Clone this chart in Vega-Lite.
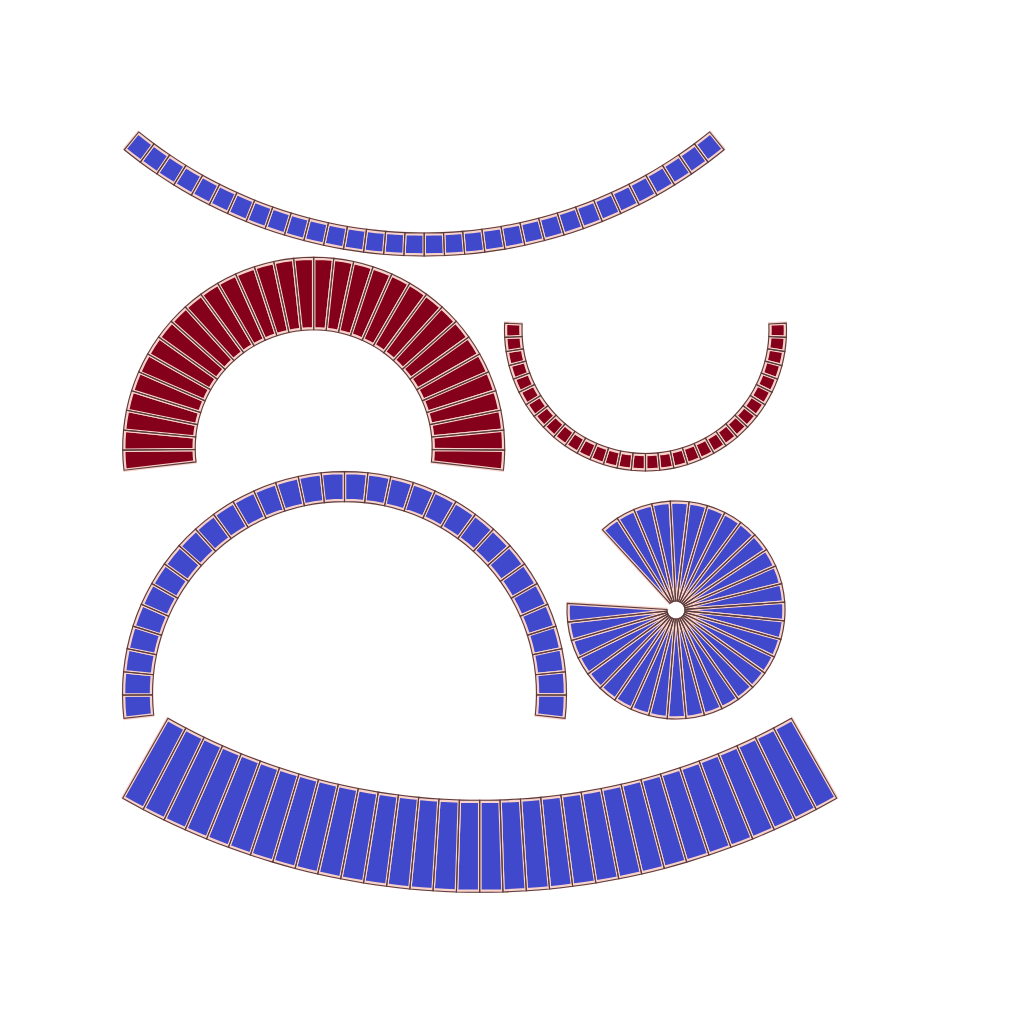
{
  "$schema": "https://vega.github.io/schema/vega-lite/v6.json",
  "width": 1024,
  "height": 1024,
  "autosize": {"type": "fit", "contains": "padding"},
  "padding": 0,
  "background": "white",
  "view": {"stroke": null},
  "data": {
    "values": [
      {"g": 1, "a": 141, "b": 143.44}, {"g": 1, "a": 143.44, "b": 145.88}, {"g": 1, "a": 145.88, "b": 148.31}, {"g": 1, "a": 148.31, "b": 150.75},
      {"g": 1, "a": 150.75, "b": 153.19}, {"g": 1, "a": 153.19, "b": 155.63}, {"g": 1, "a": 155.63, "b": 158.06}, {"g": 1, "a": 158.06, "b": 160.5},
      {"g": 1, "a": 160.5, "b": 162.94}, {"g": 1, "a": 162.94, "b": 165.38}, {"g": 1, "a": 165.38, "b": 167.81}, {"g": 1, "a": 167.81, "b": 170.25},
      {"g": 1, "a": 170.25, "b": 172.69}, {"g": 1, "a": 172.69, "b": 175.13}, {"g": 1, "a": 175.13, "b": 177.56}, {"g": 1, "a": 177.56, "b": 180},
      {"g": 1, "a": 180, "b": 182.44}, {"g": 1, "a": 182.44, "b": 184.88}, {"g": 1, "a": 184.88, "b": 187.31}, {"g": 1, "a": 187.31, "b": 189.75},
      {"g": 1, "a": 189.75, "b": 192.19}, {"g": 1, "a": 192.19, "b": 194.63}, {"g": 1, "a": 194.63, "b": 197.06}, {"g": 1, "a": 197.06, "b": 199.5},
      {"g": 1, "a": 199.5, "b": 201.94}, {"g": 1, "a": 201.94, "b": 204.38}, {"g": 1, "a": 204.38, "b": 206.81}, {"g": 1, "a": 206.81, "b": 209.25},
      {"g": 1, "a": 209.25, "b": 211.69}, {"g": 1, "a": 211.69, "b": 214.13}, {"g": 1, "a": 214.13, "b": 216.56}, {"g": 1, "a": 216.56, "b": 219},

      {"g": 2, "a": -96.6, "b": -90.56}, {"g": 2, "a": -90.56, "b": -84.53}, {"g": 2, "a": -84.53, "b": -78.49}, {"g": 2, "a": -78.49, "b": -72.45},
      {"g": 2, "a": -72.45, "b": -66.41}, {"g": 2, "a": -66.41, "b": -60.38}, {"g": 2, "a": -60.38, "b": -54.34}, {"g": 2, "a": -54.34, "b": -48.3},
      {"g": 2, "a": -48.3, "b": -42.26}, {"g": 2, "a": -42.26, "b": -36.23}, {"g": 2, "a": -36.23, "b": -30.19}, {"g": 2, "a": -30.19, "b": -24.15},
      {"g": 2, "a": -24.15, "b": -18.11}, {"g": 2, "a": -18.11, "b": -12.08}, {"g": 2, "a": -12.08, "b": -6.04}, {"g": 2, "a": -6.04, "b": 0},
      {"g": 2, "a": 0, "b": 6.04}, {"g": 2, "a": 6.04, "b": 12.08}, {"g": 2, "a": 12.08, "b": 18.11}, {"g": 2, "a": 18.11, "b": 24.15},
      {"g": 2, "a": 24.15, "b": 30.19}, {"g": 2, "a": 30.19, "b": 36.23}, {"g": 2, "a": 36.23, "b": 42.26}, {"g": 2, "a": 42.26, "b": 48.3},
      {"g": 2, "a": 48.3, "b": 54.34}, {"g": 2, "a": 54.34, "b": 60.38}, {"g": 2, "a": 60.38, "b": 66.41}, {"g": 2, "a": 66.41, "b": 72.45},
      {"g": 2, "a": 72.45, "b": 78.49}, {"g": 2, "a": 78.49, "b": 84.53}, {"g": 2, "a": 84.53, "b": 90.56}, {"g": 2, "a": 90.56, "b": 96.6},

      {"g": 3, "a": 87.2, "b": 93}, {"g": 3, "a": 93, "b": 98.8}, {"g": 3, "a": 98.8, "b": 104.6}, {"g": 3, "a": 104.6, "b": 110.4},
      {"g": 3, "a": 110.4, "b": 116.2}, {"g": 3, "a": 116.2, "b": 122}, {"g": 3, "a": 122, "b": 127.8}, {"g": 3, "a": 127.8, "b": 133.6},
      {"g": 3, "a": 133.6, "b": 139.4}, {"g": 3, "a": 139.4, "b": 145.2}, {"g": 3, "a": 145.2, "b": 151}, {"g": 3, "a": 151, "b": 156.8},
      {"g": 3, "a": 156.8, "b": 162.6}, {"g": 3, "a": 162.6, "b": 168.4}, {"g": 3, "a": 168.4, "b": 174.2}, {"g": 3, "a": 174.2, "b": 180},
      {"g": 3, "a": 180, "b": 185.8}, {"g": 3, "a": 185.8, "b": 191.6}, {"g": 3, "a": 191.6, "b": 197.4}, {"g": 3, "a": 197.4, "b": 203.2},
      {"g": 3, "a": 203.2, "b": 209}, {"g": 3, "a": 209, "b": 214.8}, {"g": 3, "a": 214.8, "b": 220.6}, {"g": 3, "a": 220.6, "b": 226.4},
      {"g": 3, "a": 226.4, "b": 232.2}, {"g": 3, "a": 232.2, "b": 238}, {"g": 3, "a": 238, "b": 243.8}, {"g": 3, "a": 243.8, "b": 249.6},
      {"g": 3, "a": 249.6, "b": 255.4}, {"g": 3, "a": 255.4, "b": 261.2}, {"g": 3, "a": 261.2, "b": 267}, {"g": 3, "a": 267, "b": 272.8},

      {"g": 4, "a": -96.4, "b": -90.38}, {"g": 4, "a": -90.38, "b": -84.35}, {"g": 4, "a": -84.35, "b": -78.33}, {"g": 4, "a": -78.33, "b": -72.3},
      {"g": 4, "a": -72.3, "b": -66.28}, {"g": 4, "a": -66.28, "b": -60.25}, {"g": 4, "a": -60.25, "b": -54.23}, {"g": 4, "a": -54.23, "b": -48.2},
      {"g": 4, "a": -48.2, "b": -42.18}, {"g": 4, "a": -42.18, "b": -36.15}, {"g": 4, "a": -36.15, "b": -30.13}, {"g": 4, "a": -30.13, "b": -24.1},
      {"g": 4, "a": -24.1, "b": -18.08}, {"g": 4, "a": -18.08, "b": -12.05}, {"g": 4, "a": -12.05, "b": -6.03}, {"g": 4, "a": -6.03, "b": 0},
      {"g": 4, "a": 0, "b": 6.03}, {"g": 4, "a": 6.03, "b": 12.05}, {"g": 4, "a": 12.05, "b": 18.08}, {"g": 4, "a": 18.08, "b": 24.1},
      {"g": 4, "a": 24.1, "b": 30.13}, {"g": 4, "a": 30.13, "b": 36.15}, {"g": 4, "a": 36.15, "b": 42.18}, {"g": 4, "a": 42.18, "b": 48.2},
      {"g": 4, "a": 48.2, "b": 54.23}, {"g": 4, "a": 54.23, "b": 60.25}, {"g": 4, "a": 60.25, "b": 66.28}, {"g": 4, "a": 66.28, "b": 72.3},
      {"g": 4, "a": 72.3, "b": 78.33}, {"g": 4, "a": 78.33, "b": 84.35}, {"g": 4, "a": 84.35, "b": 90.38}, {"g": 4, "a": 90.38, "b": 96.4},

      {"g": 5, "a": -42.5, "b": -32.63}, {"g": 5, "a": -32.63, "b": -22.75}, {"g": 5, "a": -22.75, "b": -12.88}, {"g": 5, "a": -12.88, "b": -3},
      {"g": 5, "a": -3, "b": 6.88}, {"g": 5, "a": 6.88, "b": 16.75}, {"g": 5, "a": 16.75, "b": 26.63}, {"g": 5, "a": 26.63, "b": 36.5},
      {"g": 5, "a": 36.5, "b": 46.38}, {"g": 5, "a": 46.38, "b": 56.25}, {"g": 5, "a": 56.25, "b": 66.13}, {"g": 5, "a": 66.13, "b": 76},
      {"g": 5, "a": 76, "b": 85.88}, {"g": 5, "a": 85.88, "b": 95.75}, {"g": 5, "a": 95.75, "b": 105.63}, {"g": 5, "a": 105.63, "b": 115.5},
      {"g": 5, "a": 115.5, "b": 125.38}, {"g": 5, "a": 125.38, "b": 135.25}, {"g": 5, "a": 135.25, "b": 145.13}, {"g": 5, "a": 145.13, "b": 155},
      {"g": 5, "a": 155, "b": 164.88}, {"g": 5, "a": 164.88, "b": 174.75}, {"g": 5, "a": 174.75, "b": 184.63}, {"g": 5, "a": 184.63, "b": 194.5},
      {"g": 5, "a": 194.5, "b": 204.38}, {"g": 5, "a": 204.38, "b": 214.25}, {"g": 5, "a": 214.25, "b": 224.13}, {"g": 5, "a": 224.13, "b": 234},
      {"g": 5, "a": 234, "b": 243.88}, {"g": 5, "a": 243.88, "b": 253.75}, {"g": 5, "a": 253.75, "b": 263.63}, {"g": 5, "a": 263.63, "b": 273.5},

      {"g": 6, "a": 150.5, "b": 152.34}, {"g": 6, "a": 152.34, "b": 154.19}, {"g": 6, "a": 154.19, "b": 156.03}, {"g": 6, "a": 156.03, "b": 157.88},
      {"g": 6, "a": 157.88, "b": 159.72}, {"g": 6, "a": 159.72, "b": 161.56}, {"g": 6, "a": 161.56, "b": 163.41}, {"g": 6, "a": 163.41, "b": 165.25},
      {"g": 6, "a": 165.25, "b": 167.09}, {"g": 6, "a": 167.09, "b": 168.94}, {"g": 6, "a": 168.94, "b": 170.78}, {"g": 6, "a": 170.78, "b": 172.63},
      {"g": 6, "a": 172.63, "b": 174.47}, {"g": 6, "a": 174.47, "b": 176.31}, {"g": 6, "a": 176.31, "b": 178.16}, {"g": 6, "a": 178.16, "b": 180},
      {"g": 6, "a": 180, "b": 181.84}, {"g": 6, "a": 181.84, "b": 183.69}, {"g": 6, "a": 183.69, "b": 185.53}, {"g": 6, "a": 185.53, "b": 187.38},
      {"g": 6, "a": 187.38, "b": 189.22}, {"g": 6, "a": 189.22, "b": 191.06}, {"g": 6, "a": 191.06, "b": 192.91}, {"g": 6, "a": 192.91, "b": 194.75},
      {"g": 6, "a": 194.75, "b": 196.59}, {"g": 6, "a": 196.59, "b": 198.44}, {"g": 6, "a": 198.44, "b": 200.28}, {"g": 6, "a": 200.28, "b": 202.13},
      {"g": 6, "a": 202.13, "b": 203.97}, {"g": 6, "a": 203.97, "b": 205.81}, {"g": 6, "a": 205.81, "b": 207.66}, {"g": 6, "a": 207.66, "b": 209.5}
    ]
  },
  "transform": [
    {
      "lookup": "g",
      "from": {
        "data": {
          "values": [
            {"g": 1, "cx": 424.2, "cy": -220.6, "r0": 453.6, "r1": 476.6, "tone": "blue"},
            {"g": 2, "cx": 313.7, "cy": 448.3, "r0": 118.5, "r1": 191, "tone": "red"},
            {"g": 3, "cx": 645.5, "cy": 330, "r0": 123.5, "r1": 141, "tone": "red"},
            {"g": 4, "cx": 344.5, "cy": 693.6, "r0": 192, "r1": 222, "tone": "blue"},
            {"g": 5, "cx": 676, "cy": 610, "r0": 9, "r1": 109, "tone": "blue"},
            {"g": 6, "cx": 479.7, "cy": 167.3, "r0": 633, "r1": 725, "tone": "blue"}
          ]
        },
        "key": "g",
        "fields": ["cx", "cy", "r0", "r1", "tone"]
      }
    }
  ],
  "encoding": {
    "x": {
      "field": "cx",
      "type": "quantitative",
      "scale": {"domain": [0, 1024], "nice": false, "zero": false},
      "axis": null
    },
    "y": {
      "field": "cy",
      "type": "quantitative",
      "scale": {"domain": [0, 1024], "nice": false, "zero": false, "reverse": true},
      "axis": null
    },
    "theta": {
      "field": "a",
      "type": "quantitative",
      "stack": null,
      "scale": {"type": "linear", "domain": [0, 360], "range": [0, 6.283185307179586], "zero": false, "nice": false}
    },
    "theta2": {"field": "b"},
    "radius": {
      "field": "r1",
      "type": "quantitative",
      "scale": {"type": "linear", "domain": [0, 1024], "range": [0, 1024], "zero": false, "nice": false}
    },
    "radius2": {"field": "r0"}
  },
  "layer": [
    {
      "mark": {"type": "arc", "stroke": "#f8d2ca", "strokeWidth": 3.5, "radiusOffset": -1, "radius2Offset": 1},
      "encoding": {
        "color": {
          "field": "tone",
          "type": "nominal",
          "scale": {"domain": ["blue", "red"], "range": ["#4048cc", "#85001a"]},
          "legend": null
        }
      }
    },
    {
      "mark": {"type": "arc", "filled": false, "stroke": "#5a3c3c", "strokeWidth": 1.1}
    }
  ]
}
